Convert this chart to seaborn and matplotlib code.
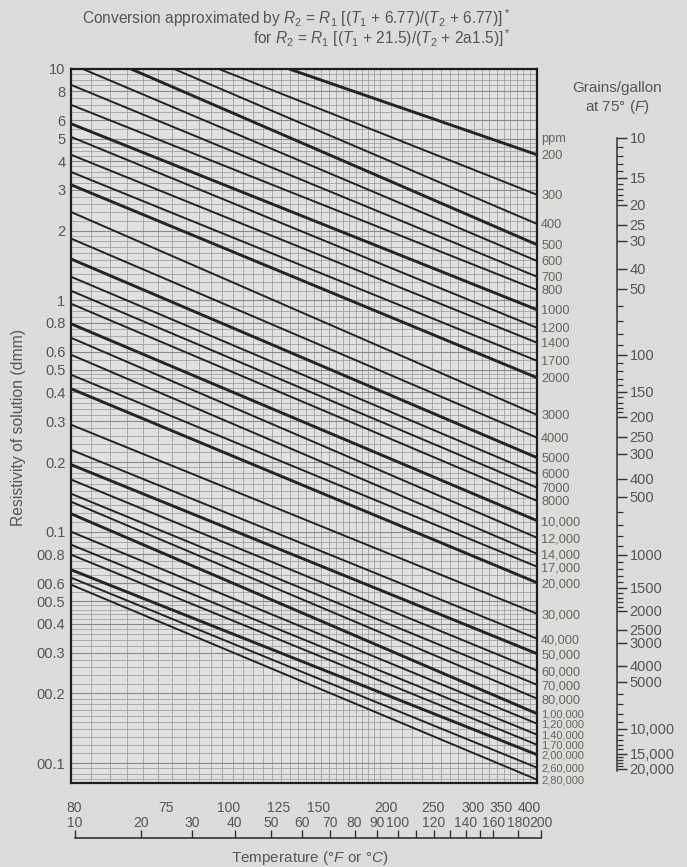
import numpy as np
import pandas as pd
import matplotlib
matplotlib.use("Agg")
import matplotlib.pyplot as plt
import seaborn as sns
from matplotlib.ticker import NullFormatter, NullLocator

# --- data --------------------------------------------------------------------
ppm_labels = ['200', '300', '400', '500', '600', '700', '800',
              '1000', '1200', '1400', '1700', '2000',
              '3000', '4000', '5000', '6000', '7000', '8000',
              '10,000', '12,000', '14,000', '17,000', '20,000',
              '30,000', '40,000', '50,000', '60,000', '70,000', '80,000',
              '1,00,000', '1,20,000', '1,40,000', '1,70,000', '2,00,000', '2,60,000', '2,80,000']

# resistivity where each line leaves the chart on the right (200 degC)
rw_right = [4.26, 2.86, 2.14, 1.74, 1.48, 1.265, 1.11,
            0.911, 0.761, 0.656, 0.548, 0.463,
            0.320, 0.255, 0.209, 0.178, 0.155, 0.136,
            0.1116, 0.0942, 0.0803, 0.0706, 0.0602,
            0.0442, 0.0345, 0.0297, 0.0251, 0.0218, 0.0190,
            0.01635, 0.0148, 0.01327, 0.0120, 0.01087, 0.00955, 0.00848]

# resistivity where each line starts on the left (10 degC); nan = comes in from the top
rw_left = [np.nan, np.nan, np.nan, np.nan, np.nan, 8.54, 7.00,
           5.80, 5.09, 4.26, 3.59, 3.16,
           2.41, 1.85, 1.51, 1.265, 1.10, 0.967,
           0.792, 0.689, 0.582, 0.477, 0.415,
           0.290, 0.226, 0.195, 0.168, 0.146, 0.1348,
           0.1196, 0.100, 0.0879, 0.0796, 0.0685, 0.0633, 0.0590]

# temperature (degC) where the lines that come in from the top cross the 10 ohm-m edge
entry_T = [57, 37, 27, 19, 11.6]

thick = ['200', '500', '1000', '2000', '5000', '10,000', '20,000', '50,000', '1,00,000', '2,00,000']

y_ticks = [10, 8, 6, 5, 4, 3, 2, 1, 0.8, 0.6, 0.5, 0.4, 0.3, 0.2, 0.1,
           0.08, 0.06, 0.05, 0.04, 0.03, 0.02, 0.01]
y_labels = ['10', '8', '6', '5', '4', '3', '2', '1', '0.8', '0.6', '0.5', '0.4', '0.3', '0.2', '0.1',
            '00.8', '00.6', '00.5', '00.4', '00.3', '00.2', '00.1']

# upper temperature row (as printed) and where each label sits on the degC axis
f_labels = ['80', '75', '100', '125', '150', '200', '250', '300', '350', '400']
f_at_C = [10.4, 25.4, 39.5, 53.7, 67.4, 96.2, 121.7, 147.8, 169, 193]
c_ticks = [10, 20, 30, 40, 50, 60, 70, 80, 90, 100, 110, 120, 130, 140, 150, 160, 180, 200]
c_labels = ['10', '20', '30', '40', '50', '60', '70', '80', '90', '100', '', '120', '', '140', '',
            '160', '180', '200']

# grains/gallon scale: label and the resistivity level opposite each labelled tick
grain_vals = [10, 15, 20, 25, 30, 40, 50, 100, 150, 200, 250, 300, 400, 500,
              1000, 1500, 2000, 2500, 3000, 4000, 5000, 10000, 15000, 20000]
grain_labels = ['10', '15', '20', '25', '30', '40', '50', '100', '150', '200', '250', '300', '400', '500',
                '1000', '1500', '2000', '2500', '3000', '4000', '5000', '10,000', '15,000', '20,000']
grain_at_rw = [5.04, 3.39, 2.59, 2.12, 1.81, 1.37, 1.12, 0.582, 0.403, 0.314, 0.257, 0.217, 0.1694, 0.1417,
               0.0796, 0.0573, 0.0456, 0.0377, 0.0331, 0.0264, 0.0225, 0.01408, 0.01098, 0.00946]
grain_minor = (list(range(11, 20)) + [60, 70, 80, 90] + list(range(110, 200, 10)) + [600, 700, 800, 900]
               + list(range(1100, 2000, 100)) + [6000, 7000, 8000, 9000] + list(range(11000, 20000, 1000)))

# --- build long table of line vertices ---------------------------------------
rows = []
for i, lab in enumerate(ppm_labels):
    if np.isnan(rw_left[i]):
        rows.append((lab, entry_T[i], 10.0))
    else:
        rows.append((lab, 10.0, rw_left[i]))
    rows.append((lab, 200.0, rw_right[i]))
df = pd.DataFrame(rows, columns=['ppm', 'T', 'Rw'])
df['weight'] = np.where(df['ppm'].isin(thick), 'thick', 'thin')

# --- style -------------------------------------------------------------------
sns.set_style("white")
plt.rcParams['font.family'] = ['Liberation Sans', 'DejaVu Sans']
plt.rcParams['mathtext.fontset'] = 'custom'
plt.rcParams['mathtext.rm'] = 'Liberation Sans'
plt.rcParams['mathtext.it'] = 'Liberation Sans:italic'
bg = '#dcdcdc'
txt = '#565656'
ink = '#242424'
fs = 10.5

fig = plt.figure(figsize=(6.87, 8.67), dpi=100, facecolor=bg)
L, B, W, H = 71 / 687, 1 - 783 / 867, 466 / 687, 714 / 867
ax = fig.add_axes([L, B, W, H], facecolor='#e1e1e1')


def fwd(t):
    with np.errstate(invalid='ignore', divide='ignore'):
        return np.log10(np.asarray(t, dtype=float) + 21.5)


def inv(u):
    return 10 ** np.asarray(u, dtype=float) - 21.5


ax.set_xscale('function', functions=(fwd, inv))
ax.set_yscale('log')
ax.set_xlim(10, 200)
ax.set_ylim(0.0082, 10)

# fine chart-paper grid
f_grid = np.concatenate([np.arange(55, 200, 5), np.arange(200, 400, 10)])
ax.set_xticks((f_grid - 32) / 1.8, minor=True)
ymin = []
for d in [0.001, 0.01, 0.1, 1]:
    ymin += list(np.arange(1, 2, 0.1) * d) + list(np.arange(2, 5, 0.2) * d) + list(np.arange(5, 10, 0.5) * d)
ax.set_yticks([v for v in ymin if 0.0082 <= v <= 10], minor=True)
ax.yaxis.set_minor_formatter(NullFormatter())
ax.xaxis.set_minor_formatter(NullFormatter())
ax.grid(which='minor', color='#9c9c9c', lw=0.55)
ax.grid(which='major', axis='y', color='#8a8a8a', lw=0.8)
ax.tick_params(which='minor', length=0)

sns.lineplot(data=df, x='T', y='Rw', units='ppm', estimator=None, size='weight',
             sizes={'thick': 2.1, 'thin': 1.4}, color=ink, legend=False, sort=False, ax=ax)
ax.set_xlabel('')
ax.set_ylabel('')

ax.set_yticks(y_ticks, labels=y_labels)
ax.tick_params(axis='y', which='major', length=0, pad=4, labelsize=fs, labelcolor=txt)
ax.set_xticks(f_at_C, labels=f_labels)
ax.tick_params(axis='x', which='major', length=4, width=1, color='#444', pad=9,
               labelsize=10, labelcolor=txt)
for s in ax.spines.values():
    s.set_color('#1e1e1e')
    s.set_linewidth(1.6)

# ppm labels at the right edge
axr = ax.twinx()
axr.set_yscale('log')
axr.set_ylim(ax.get_ylim())
axr.set_yticks(rw_right, labels=ppm_labels)
axr.yaxis.set_minor_locator(NullLocator())
axr.tick_params(axis='y', length=0, pad=3, labelsize=9.2, labelcolor='#66665a')
for t in axr.get_yticklabels()[-7:]:
    t.set_fontsize(8)
for s in axr.spines.values():
    s.set_visible(False)
fig.text(541 / 687, 1 - 139 / 867, 'ppm', fontsize=9.2, color='#66665a', ha='left', va='center')

# degC scale below the chart
axc = fig.add_axes([75 / 687, 1 - 838 / 867, 466 / 687, 0.0001])
axc.set_xscale('function', functions=(fwd, inv))
axc.set_xlim(10, 200)
axc.set_yticks([])
for k in ['left', 'right', 'top']:
    axc.spines[k].set_visible(False)
axc.spines['bottom'].set_color('#333')
axc.spines['bottom'].set_linewidth(1.2)
axc.set_xticks(c_ticks, labels=c_labels)
axc.xaxis.set_minor_locator(NullLocator())
axc.tick_params(axis='x', direction='in', length=6, width=1, color='#333', top=False, bottom=True,
                labeltop=True, labelbottom=False, pad=6, labelsize=10, labelcolor=txt)
axc.patch.set_alpha(0)

# grains/gallon scale
axg = fig.add_axes([0.80, B, 617 / 687 - 0.80, H])
axg.patch.set_alpha(0)
axg.set_yscale('log')
axg.set_ylim(ax.get_ylim())
axg.set_xticks([])
for k in ['left', 'top', 'bottom']:
    axg.spines[k].set_visible(False)
axg.spines['right'].set_color('#333')
axg.spines['right'].set_linewidth(1.1)
axg.spines['right'].set_bounds(0.0092, grain_at_rw[0])
axg.yaxis.tick_right()
axg.set_yticks(grain_at_rw, labels=grain_labels)
lg_v = np.log10(grain_vals)
lg_r = np.log10(grain_at_rw)
axg.set_yticks(10 ** np.interp(np.log10(grain_minor), lg_v, lg_r), minor=True)
axg.yaxis.set_minor_formatter(NullFormatter())
axg.tick_params(axis='y', which='major', direction='out', length=7, width=1, color='#333',
                pad=2, labelsize=fs, labelcolor=txt)
axg.tick_params(axis='y', which='minor', direction='out', length=4, width=0.9, color='#333')

# texts
fig.text(510 / 687, 1 - 18 / 867,
         r'Conversion approximated by $R_2$ = $R_1$ [($T_1$ + 6.77)/($T_2$ + 6.77)]$^*$',
         ha='right', va='center', fontsize=11.2, color=txt)
fig.text(510 / 687, 1 - 38 / 867,
         r'for $R_2$ = $R_1$ [($T_1$ + 21.5)/($T_2$ + 2a1.5)]$^*$',
         ha='right', va='center', fontsize=11.2, color=txt)
fig.text(19 / 687, 1 - 427 / 867, 'Resistivity of solution (dmm)', rotation=90,
         ha='center', va='center', fontsize=11.3, color=txt)
fig.text(310 / 687, 1 - 858 / 867, r'Temperature (°$F$ or °$C$)',
         ha='center', va='center', fontsize=11, color=txt)
fig.text(617 / 687, 1 - 88 / 867, 'Grains/gallon', ha='center', va='center', fontsize=11, color=txt)
fig.text(617 / 687, 1 - 107 / 867, r'at 75° ($F$)', ha='center', va='center', fontsize=11, color=txt)

fig.savefig('out.png', dpi=100, facecolor=bg)
